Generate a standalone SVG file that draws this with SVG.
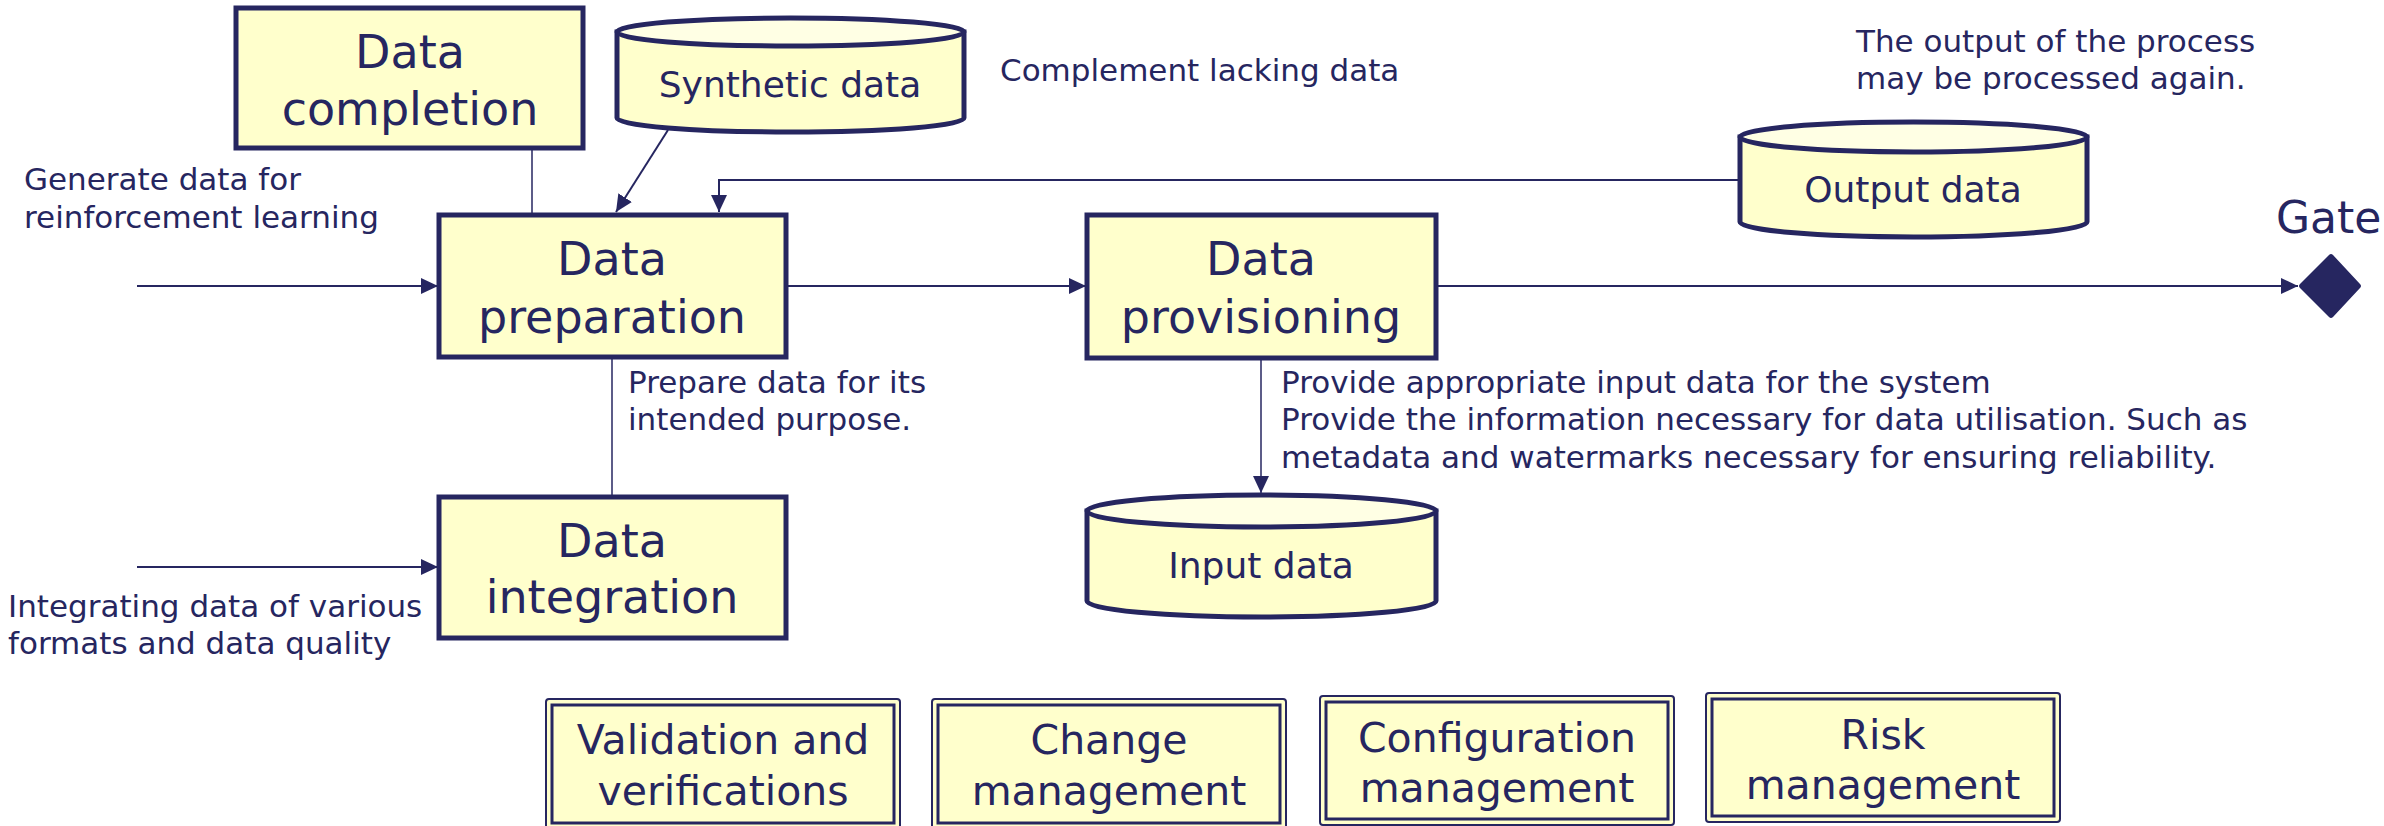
<svg xmlns="http://www.w3.org/2000/svg" width="2384" height="826" viewBox="0 0 2384 826">
<style>
text{font-family:"DejaVu Sans","Liberation Sans",sans-serif;fill:#262660}
.big{font-size:46px;text-anchor:middle}
.cyl{font-size:36px;text-anchor:middle}
.sm{font-size:31px}
.bot{font-size:41px;text-anchor:middle}
.box{fill:#FFFFCC;stroke:#262660;stroke-width:5}
.cbody{fill:#FFFFCC;stroke:#262660;stroke-width:5}
.ctop{fill:#FFFFE4;stroke:#262660;stroke-width:5}
.outer{fill:#FFFFCC;stroke:#262660;stroke-width:2}
.inner{fill:none;stroke:#262660;stroke-width:3}
.ln{fill:none;stroke:#262660;stroke-width:2}
.thin{fill:none;stroke:#262660;stroke-width:1.5}
</style>
<defs>
<marker id="arr" markerUnits="userSpaceOnUse" markerWidth="18" markerHeight="18" viewBox="0 0 18 18" refX="17" refY="9" orient="auto">
<path d="M0,1 L17,9 L0,17 Z" fill="#262660"/>
</marker>
</defs>
<rect width="2384" height="826" fill="#FFFFFF"/>

<g id="connectors">
<line class="thin" x1="532" y1="148" x2="532" y2="213"/>
<line class="thin" x1="612" y1="357" x2="612" y2="495"/>
<line class="ln" x1="668" y1="130" x2="616" y2="212" marker-end="url(#arr)"/>
<polyline class="ln" points="1740,180 719,180 719,212" marker-end="url(#arr)"/>
<line class="ln" x1="137" y1="286" x2="438" y2="286" marker-end="url(#arr)"/>
<line class="ln" x1="137" y1="567" x2="438" y2="567" marker-end="url(#arr)"/>
<line class="ln" x1="786" y1="286" x2="1086" y2="286" marker-end="url(#arr)"/>
<line class="ln" x1="1436" y1="286" x2="2298" y2="286" stroke-width="2.5" marker-end="url(#arr)"/>
<line class="thin" x1="1261" y1="358" x2="1261" y2="493" marker-end="url(#arr)"/>
</g>

<g id="data-completion">
<rect class="box" x="236" y="8" width="347" height="140"/>
<text class="big" x="410" y="68">Data</text>
<text class="big" x="410" y="125">completion</text>
</g>

<g id="synthetic-data">
<path class="cbody" d="M617,32 V118 A173.5,14 0 0 0 964,118 V32 Z"/>
<ellipse class="ctop" cx="790.5" cy="32" rx="173.5" ry="14"/>
<text class="cyl" x="790" y="97">Synthetic data</text>
</g>

<g id="data-preparation">
<rect class="box" x="439" y="215" width="347" height="142"/>
<text class="big" x="612" y="275">Data</text>
<text class="big" x="612" y="333">preparation</text>
</g>

<g id="data-provisioning">
<rect class="box" x="1087" y="215" width="349" height="143"/>
<text class="big" x="1261" y="275">Data</text>
<text class="big" x="1261" y="333">provisioning</text>
</g>

<g id="data-integration">
<rect class="box" x="439" y="497" width="347" height="141"/>
<text class="big" x="612" y="557">Data</text>
<text class="big" x="612" y="613">integration</text>
</g>

<g id="output-data">
<path class="cbody" d="M1740,137 V222 A173.5,15 0 0 0 2087,222 V137 Z"/>
<ellipse class="ctop" cx="1913.5" cy="137" rx="173.5" ry="15"/>
<text class="cyl" x="1913" y="202">Output data</text>
</g>

<g id="input-data">
<path class="cbody" d="M1087,511 V601 A174.5,16 0 0 0 1436,601 V511 Z"/>
<ellipse class="ctop" cx="1261.5" cy="511" rx="174.5" ry="16"/>
<text class="cyl" x="1261" y="578">Input data</text>
</g>

<g id="gate">
<path d="M2329,255 Q2331,253 2333,255 L2360,284 Q2362,286 2360,288 L2333,317 Q2331,319 2329,317 L2300,288 Q2298,286 2300,284 Z" fill="#262660"/>
<text x="2276" y="233" font-size="44">Gate</text>
</g>

<g id="labels">
<text class="sm" x="24" y="190">Generate data for</text>
<text class="sm" x="24" y="228">reinforcement learning</text>
<text class="sm" x="1000" y="81">Complement lacking data</text>
<text class="sm" x="1856" y="52">The output of the process</text>
<text class="sm" x="1856" y="89">may be processed again.</text>
<text class="sm" x="628" y="393">Prepare data for its</text>
<text class="sm" x="628" y="430">intended purpose.</text>
<text class="sm" x="1281" y="393">Provide appropriate input data for the system</text>
<text class="sm" x="1281" y="430">Provide the information necessary for data utilisation. Such as</text>
<text class="sm" x="1281" y="468">metadata and watermarks necessary for ensuring reliability.</text>
<text class="sm" x="8" y="617">Integrating data of various</text>
<text class="sm" x="8" y="654">formats and data quality</text>
</g>

<g id="validation-and-verifications">
<rect class="outer" x="546" y="699" width="354" height="130" rx="3"/>
<rect class="inner" x="552" y="705" width="342" height="118"/>
<text class="bot" x="723" y="754">Validation and</text>
<text class="bot" x="723" y="805">verifications</text>
</g>

<g id="change-management">
<rect class="outer" x="932" y="699" width="354" height="130" rx="3"/>
<rect class="inner" x="938" y="705" width="342" height="118"/>
<text class="bot" x="1109" y="754">Change</text>
<text class="bot" x="1109" y="805">management</text>
</g>

<g id="configuration-management">
<rect class="outer" x="1320" y="696" width="354" height="129" rx="3"/>
<rect class="inner" x="1326" y="702" width="342" height="117"/>
<text class="bot" x="1497" y="752">Configuration</text>
<text class="bot" x="1497" y="802">management</text>
</g>

<g id="risk-management">
<rect class="outer" x="1706" y="693" width="354" height="129" rx="3"/>
<rect class="inner" x="1712" y="699" width="342" height="117"/>
<text class="bot" x="1883" y="749">Risk</text>
<text class="bot" x="1883" y="799">management</text>
</g>
</svg>
